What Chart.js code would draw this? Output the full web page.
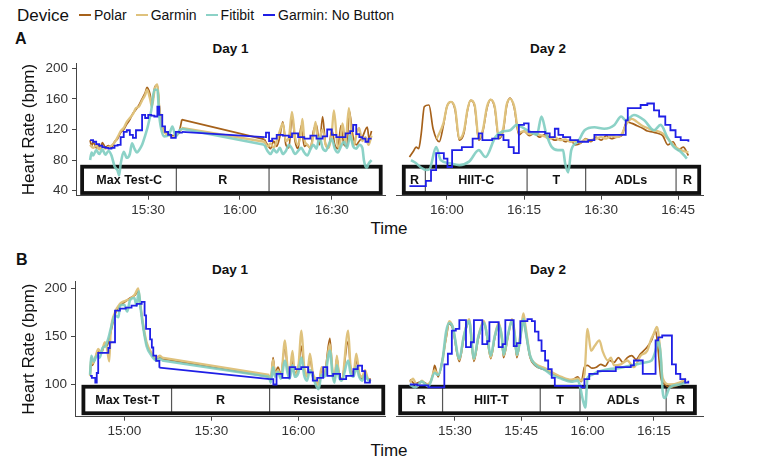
<!DOCTYPE html>
<html>
<head>
<meta charset="utf-8">
<script src="https://cdn.jsdelivr.net/npm/chart.js@4.4.0/dist/chart.umd.min.js"></script>
<style>
  body { margin: 0; background: #fff; font-family: "Liberation Sans", Arial, sans-serif; }
  #wrap { position: relative; width: 770px; height: 464px; overflow: hidden; }
  canvas { position: absolute; }
  .lbl { position: absolute; white-space: nowrap; color: #111; line-height: 1; }
</style>
</head>
<body>
<div id="wrap"></div>
<script>
// devices and colours
const devices = ["Polar", "Garmin", "Fitibit", "Garmin: No Button"];
const deviceColors = ["#a6611a", "#dfc27d", "rgba(128,205,193,0.9)", "#1f1fe6"];
const deviceWidths = [1.7, 2.3, 2.6, 1.8];

// y ticks (bpm)
const aYTicks = [40, 80, 120, 160, 200];
const bYTicks = [100, 150, 200];

// x ticks, minutes after midnight
const a1Ticks = [930, 960, 990];
const a2Ticks = [960, 975, 990, 1005];
const b1Ticks = [900, 930, 960];
const b2Ticks = [930, 945, 960, 975];

// activity phases: labels and boundaries (minutes after midnight)
const a1Phases = ["Max Test-C", "R", "Resistance"];
const a1Edges = [908.4, 939.2, 969.5, 1006];
const a2Phases = ["R", "HIIT-C", "T", "ADLs", "R"];
const a2Edges = [951.6, 955.8, 975.6, 987, 1004.6, 1009.1];
const b1Phases = ["Max Test-T", "R", "Resistance"];
const b1Edges = [885.9, 916.3, 950.1, 989.3];
const b2Phases = ["R", "HIIT-T", "T", "ADLs", "R"];
const b2Edges = [917.6, 927.2, 949.3, 958.3, 977.8, 984.3];

// heart rate, [minute, bpm]
const a1Polar = [[911,106],[911.5,98],[912,104],[913,96],[914,100],[914.5,95],[915,103],[916,97],[917,99],[918,96],[919,104],[920,108],[921,116],[922,120],[923,127],[924,133],[925,141],[926,146],[927,152],[928,160],[929,168],[929.6,175],[930.6,166],[931.2,152],[932.2,176],[933,178],[933.6,152],[934.6,124],[935.5,118],[936.8,115],[938,112],[939,113],[940.2,118],[941,133],
  [968,107],[969,100],[970,95],[971,105],[972,98],[973,110],[974,130],[975,100],[976,96],[977,138],[978,105],[979,95],[980,125],[981,98],[982,100],[983,95],[984,118],[985,126],[986,100],[987,137],[988,100],[989,96],[990,120],[991,100],[992,95],[993,125],[994,100],[995,98],[995.6,146],[997,110],[998,100],[999,105],[1000,110],[1001.6,123],[1002.2,108],[1003,118]];
const a1Garmin = [[911,100],[912,96],[913,99],[914,94],[915,98],[916,95],[917,97],[918,99],[919,103],[920,110],[921,118],[922,122],[923,130],[924,135],[925,140],[926,148],[927,150],[928,158],[929,165],[929.6,172],[930.6,160],[931.2,150],[932.2,174],[933,179],[933.6,150],[934.6,122],[935.5,115],[936.8,113],[938,110],[939,112],[940.2,116],[941,122],
  [968,104],[969,98],[970,102],[971,96],[972,105],[973,118],[974,128],[975,105],[976,110],[977,143],[978,110],[979,100],[980,118],[980.4,134],[981,108],[982,100],[983,96],[984,112],[984.7,130],[985.5,104],[987,120],[988,100],[989,96],[990,115],[990.7,145],[991.8,102],[992.5,96],[993.5,128],[994.5,104],[995.6,148],[996.5,110],[997.3,100],[998,112],[998.9,122],[1000,105],[1001,110],[1002,100],[1003,112]];
const a1Fitbit = [[911,80],[911.5,90],[912,86],[913,93],[914,88],[915,94],[916,87],[917,92],[918,86],[919,72],[920,66],[920.5,60],[921,75],[922,91],[923,83],[924,88],[924.7,102],[925.5,95],[926.3,90],[927,93],[928,100],[929,112],[929.8,123],[931,145],[932,172],[933,172],[933.6,138],[935.2,111],[936.8,113],[937.9,124],[939,111],[940.2,119],[941,121],
  [968,100],[969,92],[970,88],[971,94],[972,90],[973,96],[974,88],[975,92],[976,100],[977,95],[978,88],[979,92],[980,96],[981,90],[982,86],[983,94],[984,100],[985,95],[986,110],[987,96],[988,92],[989,100],[990,108],[991,95],[992,90],[993,98],[994,104],[995,96],[996,112],[997,98],[998,95],[999,100],[1000,96],[1000.5,80],[1001,72],[1001.5,70],[1002,75],[1003,80]];
const a1NoButton = [[911,106],[912,104],[913,101],[914,99],[915,97],[916,96],[917,95],[918,96],[919,99],[920,100],[921,110],[922,117],[923,119],[924,113],[925,109],[926,119],[927,119],[928,139],[929,135],[930,139],[931,138],[932,137],[933,150],[933.6,139],[934.6,124],[935.5,117],[936.5,113],[937.5,109],[939,117],[940.2,116],[941,117],
  [968,110],[968.5,116],[969.5,105],[970.5,108],[972,113],[974,112],[976,110],[977,115],[979,110],[981,108],[983,112],[985,108],[987,111],[988.5,120],[990,113],[991.5,110],[993,110],[994.5,115],[996,118],[997,126],[998,114],[999,110],[1000,108],[1001,104],[1002,108],[1003,108]];

const a2Polar = [[952.7,84],[953.5,92],[954,97],[954.5,95],[955,115],[955.6,150],[956.5,152],[957.3,121],[958.5,104],[959.3,125],[960,150],[960.8,156],[961.6,145],[962.4,106],[963.3,115],[964,145],[964.6,158],[965.4,150],[966.2,106],[967,118],[967.8,148],[968.5,159],[969.3,148],[970.1,108],[971,120],[971.6,150],[972.3,161],[973.1,148],[974,113],[975,118],[976,112],[977,115],[978,110],[979,113],[980,110],[981,106],[982,108],[983,104],[984,106],[985,100],[986,102],[987,108],[988,104],[989,110],[990,106],[991,112],[992,108],[993,110],[994,112],[995,130],[996,128],[997,125],[998,122],[999,118],[1000,117],[1001,115],[1002,112],[1003,100],[1004,104],[1005,93],[1006,97],[1007,86]];
const a2Garmin = [[958,108],[959.3,128],[960,150],[960.8,156],[961.6,147],[962.4,108],[963.3,118],[964,146],[964.6,158],[965.4,152],[966.2,108],[967,120],[967.8,150],[968.5,159],[969.3,150],[970.1,110],[971,123],[971.6,152],[972.3,160],[973.1,150],[974,116],[975,118],[976,114],[977,116],[978,113],[979,111],[980,108],[981,110],[982,106],[983,107],[984,104],[985,105],[986,103],[987,107],[988,106],[989,108],[990,110],[991,108],[992,112],[993,110],[994,114],[995,128],[996,134],[997,130],[998,125],[999,122],[1000,119],[1001,118],[1002,115],[1003,108],[1004,100],[1005,95],[1006,92],[1007,90]];
const a2Fitbit = [[953,80],[954,76],[955,70],[956,67],[956.6,68],[957.9,97],[958.8,80],[960.5,76],[962.4,73.5],[964.3,78],[966.2,93],[967.5,84],[969.4,110],[970.7,117],[972.3,119],[973.6,126],[974.6,123],[976.2,117],[977.5,113],[978.4,137],[979.3,115],[980.4,97],[981.6,93],[982.6,93],[983,76],[983.6,64],[984.2,93],[985.5,104],[986.8,119],[988.7,123],[990.6,121],[992.6,126],[993.9,137],[994.8,132],[996.4,139],[998.4,132],[1000.3,119],[1001.6,126],[1002.9,110],[1004.2,97],[1005.5,91],[1006.7,82]];
const a2NoButton = [[952.7,46],[955.9,53],[956.9,67],[957.9,89],[959.4,82],[960.1,71],[961,93],[962.9,97],[965,108],[966.2,115],[966.9,106],[968.8,108],[970,113],[971,106],[972,97],[973,89],[974,126],[975,128],[975.9,117],[978,117],[979.1,115],[980,110],[981,121],[981.7,113],[982.6,110],[984,106],[985.5,104],[987.5,106],[988.7,113],[993.9,113],[994.8,132],[995.2,148],[997.7,152],[999,154],[1000.3,145],[1001.3,137],[1002.5,126],[1003.5,119],[1004.5,110],[1005.5,106],[1007,104]];

const b1Polar = [[888.2,110],[888.6,125],[889,120],[890,128],[891,135],[892,132],[893.3,142],[894,140],[895,150],[896.8,173],[898.5,182],[900.2,186],[902,190],[903.7,193],[904.8,197],[905.4,185],[906.6,158],[907.7,142],[909.4,132],[911.1,126],[912.3,128],[913,127],
  [950,108],[950.5,104],[951.3,128],[952,112],[953,118],[954,110],[955.4,140],[956.3,116],[957,110],[958,125],[958.8,112],[960,118],[961.1,140],[962,115],[963,110],[964,128],[965,110],[966,104],[967,100],[968,115],[969,112],[970.9,148],[971.8,112],[972.5,106],[973.3,128],[974,112],[975,106],[977.2,145],[978,118],[979,112],[980,125],[981,110],[982,106],[983,112],[984,105],[985,106]];
const b1Garmin = [[888.2,109],[888.6,128],[889,122],[889.8,126],[891,137],[892,133],[893.3,144],[894,138],[894.8,124],[895.3,154],[896.8,175],[898.5,184],[900.2,187],[902,189],[903.7,194],[904.8,200],[905.4,186],[906.6,161],[907.7,144],[909.4,133],[911.1,128],[912.3,130],[913,128],
  [950,110],[950.5,106],[951.3,126],[952,110],[953,115],[954,108],[955.4,146],[956.3,118],[957,112],[958,135],[958.8,110],[960,118],[961.1,156],[962,120],[963,108],[964,132],[965,112],[966,105],[967,98],[968,118],[969,110],[970.9,142],[971.8,115],[972.5,104],[973.3,130],[974,110],[975,105],[977.2,156],[978,120],[979,110],[980,132],[981,112],[982,108],[983,115],[984,106],[985,104]];
const b1Fitbit = [[888.2,110],[888.6,130],[889.5,124],[890.5,130],[891.5,128],[892.5,138],[893.5,140],[894.5,148],[895.5,160],[896.8,172],[898,170],[898.5,182],[900,183],[901,176],[902,188],[903.5,190],[904.2,182],[905,197],[905.6,180],[906.6,158],[907.7,140],[909.4,130],[911.1,125],[912.3,127],[913,125],
  [950,108],[950.5,102],[951.3,118],[952,108],[953,113],[954,106],[955.4,125],[956.3,112],[957,106],[958,120],[958.8,108],[960,112],[961.1,128],[962,110],[963,104],[964,115],[965,108],[966,100],[967,95],[968,110],[969,108],[970.9,135],[971.8,110],[972.5,102],[973.3,120],[974,108],[975,104],[977.2,125],[978,112],[979,108],[980,118],[981,108],[982,104],[983,110],[984,105],[985,103]];
const b1NoButton = [[888.2,109],[888.8,107],[890,102],[890.5,112],[891,133],[893,133],[894.5,138],[895,144],[896,144],[896.8,177],[898.5,179],[900.5,180],[902.5,182],[904.3,184],[906,186],[907,172],[907.5,158],[908.9,147],[909.5,138.5],[910,130],[911,124.5],[912.1,117.5],
  [950.2,105.6],[951.4,100],[952.5,111],[954.5,107],[957,118],[959,116],[961,118],[963.4,112.6],[965,104],[966.5,107],[968.6,118],[970,109],[972,111],[974.4,105.6],[976.5,109],[979,116],[980.5,119.6],[982,114],[983,102],[984.7,105.6]];

const b2Polar = [[919.8,105],[921,101],[922.5,103],[924,100],[925,110],[925.4,120],[926.2,108],[927.2,127],[928,148],[928.7,163],[929.5,158],[931,124],[932,148],[933.2,165],[934.3,124],[935.3,148],[936.6,164],[937.3,148],[938.1,127],[939,148],[939.9,162],[940.6,148],[941,128],[942,150],[942.9,166],[943.5,150],[944,128],[945,155],[945.5,168],[946,155],[947,128],[948.1,120],[950.4,115],[951.9,112],[954.1,107],[956.3,104],[957.8,108],[958.6,103],[959.3,118],[960,120],[961,117],[962,118],[963,121],[964,119],[965,125],[966,123],[967,128],[968,123],[969,128],[970,130],[971,126],[972,132],[973.5,139],[974.5,146],[975.4,156],[976,135],[976.6,107],[977.5,100],[978.6,97],[980.8,100],[982.3,104]];
const b2Garmin = [[919.8,102],[920.5,106],[921.5,98],[922.5,104],[923.5,100],[924.5,103],[925.4,115],[926.2,110],[927.2,125],[928,150],[928.7,166],[929.5,160],[931,126],[932,150],[933.2,168],[934.3,126],[935.3,150],[936.6,166],[937.3,150],[938.1,128],[939,150],[939.9,164],[940.6,150],[941,130],[942,150],[942.9,168],[943.5,155],[944,130],[945,160],[945.5,174],[946,160],[947,130],[948.1,122],[950.4,117],[951.9,113],[954.1,108],[956.3,105],[957.8,106],[958.6,104],[959.3,110],[960,158],[960.8,135],[961.6,140],[962.7,146],[963.4,135],[964.6,125],[965.3,128],[966,120],[967.5,121],[969,125],[970.5,118],[972,130],[973.5,135],[974.3,146],[975,153],[975.7,160],[976.4,139],[977,107],[978.6,100],[980.8,102],[982.3,106]];
const b2Fitbit = [[919.8,100],[921,97],[922.5,103],[924,98],[925.4,112],[926.2,110],[927.2,126],[928,155],[928.7,164],[929.5,160],[931,127],[932,150],[933.2,166],[934.3,127],[935.3,150],[936.6,164],[937.3,150],[938.1,130],[939,150],[939.9,162],[940.6,150],[941,131],[942,152],[942.9,166],[943.5,152],[944,131],[945,155],[945.5,168],[946,155],[947,130],[948.1,121],[950.4,115],[951.9,110],[954.1,106],[956.3,103],[957.8,104],[958.2,100],[959,83],[959.5,76],[960,107],[961,110],[962,112.6],[963,114],[965,116],[967,117],[969,119],[971,121],[973,123],[974.5,125],[975.4,135],[976,146],[976.6,128],[977,93],[977.5,86],[978.6,97],[980.8,100],[982.3,102]];
const b2NoButton = [[919.8,100],[921.5,99],[924,97],[927.6,121],[928.4,132],[929.3,156],[930.2,158],[931,167],[932.5,139],[933.6,144],[934.3,167],[936.2,142],[937.3,145],[937.8,165],[939.9,139],[940.8,142],[941.4,167],[943.3,140],[944,143],[944.8,166],[946.4,168],[947.4,166],[948.1,155],[948.9,146],[949.6,135],[950.4,125],[951.1,116],[951.9,107],[952.6,98.6],[958.6,97],[959.3,105.6],[960.4,111],[962.3,114],[966.4,118],[969.8,120],[970.5,125],[972,125],[972.5,111],[975,111],[975.4,146],[976,149],[976.9,151],[979,151],[979.1,121],[980,111],[981,105.6],[982.1,102],[982.8,104]];

// panel layout: canvas [left, top, width, height], plot area [left, top, right, bottom]
const panels = [
  { canvas: [0, 47, 390, 176], area: [76, 63.3, 385, 195.7], yAxis: true, yRange: [33.5, 206.5], yTicks: aYTicks,
    xRange: [906.4, 1007.4], xTicks: a1Ticks, series: [a1Polar, a1Garmin, a1Fitbit, a1NoButton], phases: a1Phases, edges: a1Edges, box: [37, 71.4] },
  { canvas: [390, 47, 316, 176], area: [393.3, 63.3, 703.3, 195.7], yAxis: false, yRange: [33.5, 206.5], yTicks: aYTicks,
    xRange: [950.2, 1009.9], xTicks: a2Ticks, series: [a2Polar, a2Garmin, a2Fitbit, a2NoButton], phases: a2Phases, edges: a2Edges, box: [37, 71.4] },
  { canvas: [0, 265, 390, 178], area: [75, 281.7, 385, 416.7], yAxis: true, yRange: [66.5, 207], yTicks: bYTicks,
    xRange: [883, 989.9], xTicks: b1Ticks, series: [b1Polar, b1Garmin, b1Fitbit, b1NoButton], phases: b1Phases, edges: b1Edges, box: [70.1, 97.7] },
  { canvas: [390, 265, 316, 178], area: [393.3, 281.7, 703.3, 416.7], yAxis: false, yRange: [66.5, 207], yTicks: bYTicks,
    xRange: [916.8, 986.2], xTicks: b2Ticks, series: [b2Polar, b2Garmin, b2Fitbit, b2NoButton], phases: b2Phases, edges: b2Edges, box: [70.1, 97.7] }
];

const FONT = '"Liberation Sans", Arial, sans-serif';
Chart.defaults.font.family = FONT;
const wrap = document.getElementById("wrap");

function addLabel(text, x, y, size, bold, center) {
  const d = document.createElement("div");
  d.className = "lbl";
  d.textContent = text;
  d.style.left = x + "px";
  d.style.top = y + "px";
  d.style.fontSize = size + "px";
  if (bold) d.style.fontWeight = "bold";
  d.style.transform = center ? "translate(-50%,-50%)" : "translate(0,-50%)";
  wrap.appendChild(d);
}

function fmtTime(v) {
  const h = Math.floor(v / 60), m = Math.round(v % 60);
  return h + ":" + String(m).padStart(2, "0");
}

// legend
addLabel("Device", 17, 15, 17, false, false);
let lx = 79;
devices.forEach((name, i) => {
  const sw = document.createElement("div");
  sw.style.cssText = "position:absolute;left:" + lx + "px;top:14px;width:12px;height:2px;background:" + deviceColors[i];
  wrap.appendChild(sw);
  addLabel(name, lx + 15, 15, 14, false, false);
  const ctx = document.createElement("canvas").getContext("2d");
  ctx.font = "14px " + FONT;
  lx += 15 + ctx.measureText(name).width + 9;
});

addLabel("A", 15, 39, 16, true, false);
addLabel("B", 16, 260, 16, true, false);
addLabel("Day 1", 230.5, 49, 13.5, true, true);
addLabel("Day 2", 548, 49, 13.5, true, true);
addLabel("Day 1", 230, 270, 13.5, true, true);
addLabel("Day 2", 548, 270, 13.5, true, true);
addLabel("Time", 389, 228, 17, false, true);
addLabel("Time", 389, 450, 17, false, true);

const phaseBox = {
  id: "phaseBox",
  beforeDatasetsDraw(chart, args, opts) {
    const { ctx, scales: { x, y } } = chart;
    const xs = opts.edges.map(e => x.getPixelForValue(e));
    const top = y.getPixelForValue(opts.top);
    const bot = y.getPixelForValue(opts.bottom);
    const l = xs[0], r = xs[xs.length - 1];
    ctx.save();
    ctx.fillStyle = "#fff";
    ctx.fillRect(l, top, r - l, bot - top);
    ctx.strokeStyle = "#555";
    ctx.lineWidth = 1.2;
    for (let i = 1; i < xs.length - 1; i++) {
      ctx.beginPath();
      ctx.moveTo(xs[i], top);
      ctx.lineTo(xs[i], bot);
      ctx.stroke();
    }
    ctx.fillStyle = "#111";
    ctx.font = "bold 12.5px " + FONT;
    ctx.textAlign = "center";
    ctx.textBaseline = "middle";
    opts.labels.forEach((t, i) => ctx.fillText(t, (xs[i] + xs[i + 1]) / 2, (top + bot) / 2 + 1));
    ctx.strokeStyle = "#111";
    ctx.lineWidth = 3.8;
    ctx.strokeRect(l, top, r - l, bot - top);
    ctx.restore();
  }
};

const toXY = arr => arr.map(([x, y]) => ({ x, y }));

function buildDatasets(series) {
  const out = [];
  // draw order: Garmin: No Button on top, Polar at the bottom
  for (let i = series.length - 1; i >= 0; i--) {
    const pts = series[i];
    const base = { borderColor: deviceColors[i], borderWidth: deviceWidths[i], pointRadius: 0, tension: 0, fill: false };
    const style = i === 3 ? { stepped: true } : { cubicInterpolationMode: "monotone" };
    // split where there are no readings for a while, join those with a plain line
    let seg = [pts[0]];
    for (let k = 1; k < pts.length; k++) {
      if (pts[k][0] - pts[k - 1][0] > 10) {
        out.push(Object.assign({ data: toXY(seg) }, base, style));
        out.push(Object.assign({ data: toXY([pts[k - 1], pts[k]]) }, base));
        seg = [];
      }
      seg.push(pts[k]);
    }
    out.push(Object.assign({ data: toXY(seg) }, base, style));
  }
  return out;
}

panels.forEach(p => {
  const [cl, ct, cw, ch] = p.canvas;
  const [al, at, ar, ab] = p.area;
  const cv = document.createElement("canvas");
  cv.width = cw; cv.height = ch;
  cv.style.left = cl + "px"; cv.style.top = ct + "px";
  cv.style.width = cw + "px"; cv.style.height = ch + "px";
  wrap.appendChild(cv);

  const tickFont = { size: 13.5, family: FONT };
  new Chart(cv, {
    type: "line",
    data: { datasets: buildDatasets(p.series) },
    options: {
      responsive: false,
      animation: false,
      events: [],
      layout: { padding: { left: p.yAxis ? 0 : al - cl, top: at - ct, right: cl + cw - ar, bottom: 0 } },
      plugins: {
        legend: { display: false },
        tooltip: { enabled: false },
        phaseBox: { edges: p.edges, labels: p.phases, top: p.box[1], bottom: p.box[0] }
      },
      scales: {
        x: {
          type: "linear",
          min: p.xRange[0], max: p.xRange[1],
          afterBuildTicks: s => { s.ticks = p.xTicks.map(v => ({ value: v })); },
          afterFit: s => { s.height = ct + ch - ab; },
          ticks: { callback: v => fmtTime(v), font: tickFont, color: "#333", padding: 2, maxRotation: 0, autoSkip: false },
          grid: { drawOnChartArea: false, tickLength: 4, color: "#444" },
          border: { color: "#444", width: 1 }
        },
        y: {
          display: p.yAxis,
          min: p.yRange[0], max: p.yRange[1],
          afterBuildTicks: s => { s.ticks = p.yTicks.map(v => ({ value: v })); },
          afterFit: s => { s.width = al - cl; },
          ticks: { font: tickFont, color: "#333", padding: 4 },
          grid: { drawOnChartArea: false, tickLength: 4, color: "#444" },
          border: { color: "#444", width: 1 },
          title: { display: true, text: "Heart Rate (bpm)", font: { size: 17, family: FONT }, color: "#111", padding: { top: 18.8, bottom: 0 } }
        }
      }
    },
    plugins: [phaseBox]
  });
});
</script>
</body>
</html>
